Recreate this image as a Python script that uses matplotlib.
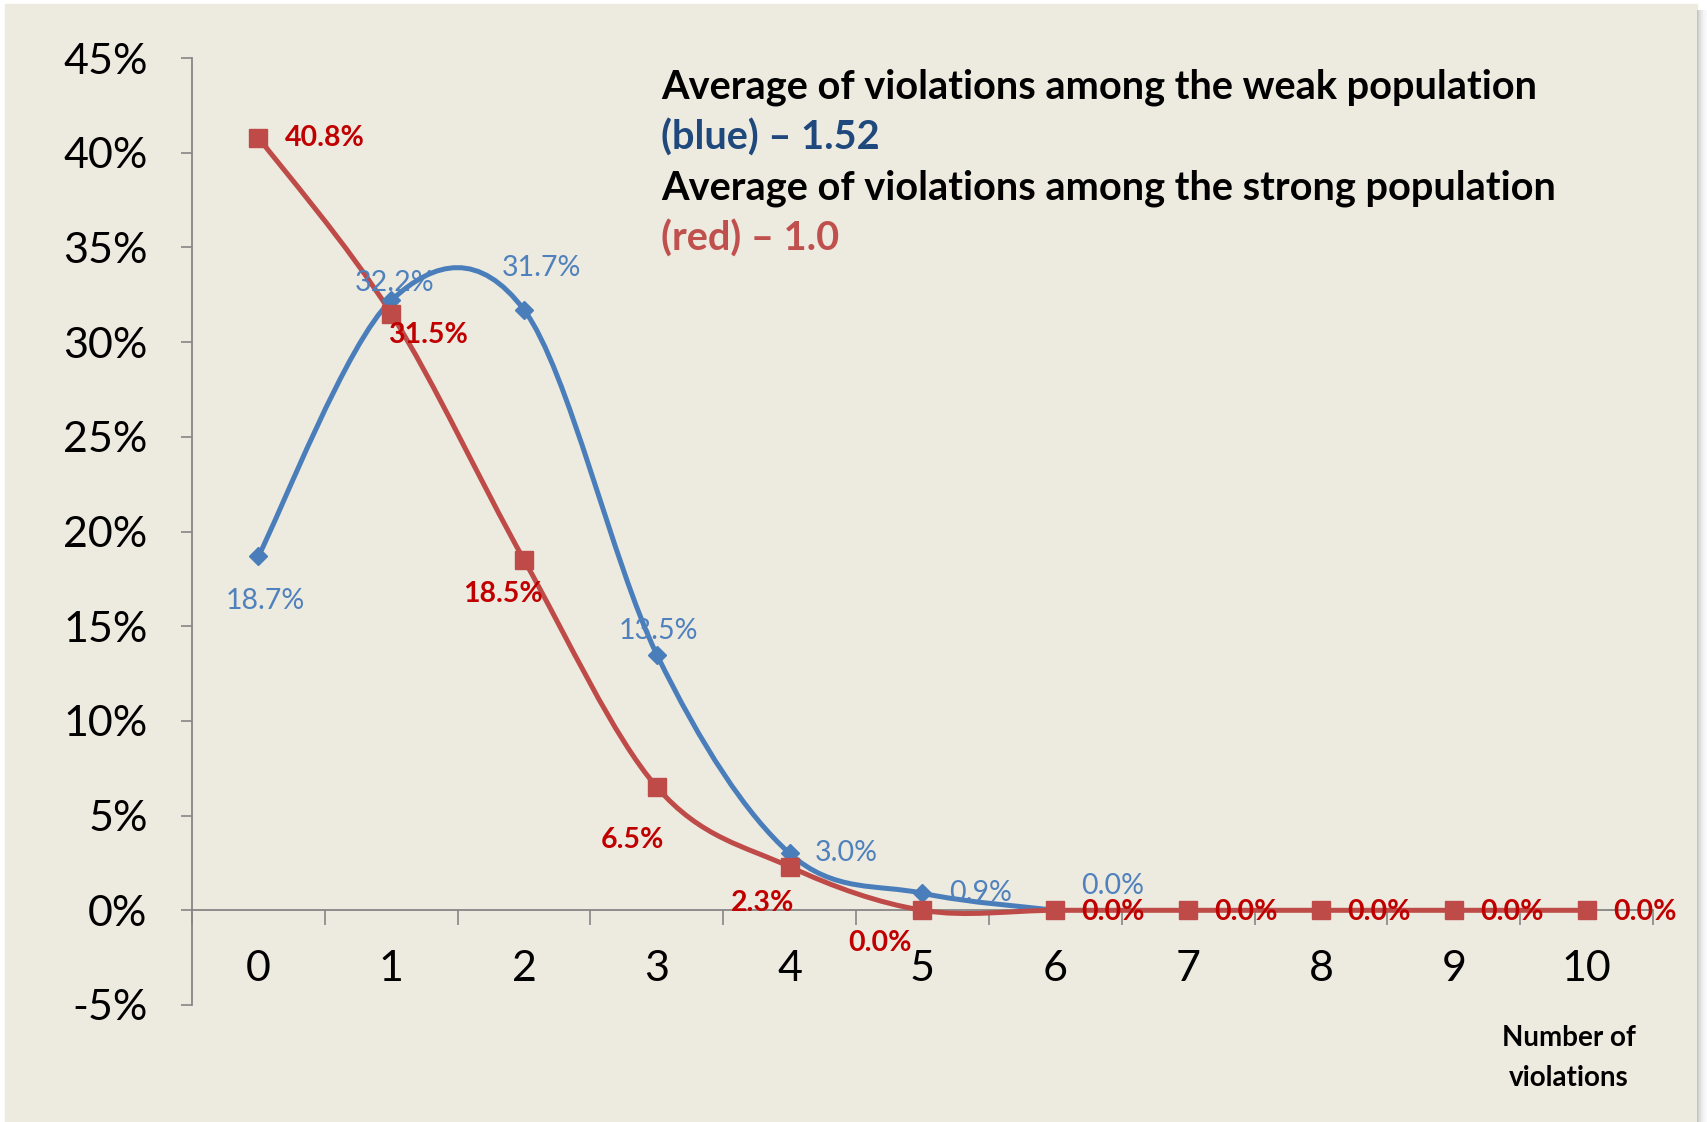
import numpy as np
import matplotlib
matplotlib.use("Agg")
import matplotlib.pyplot as plt
from matplotlib.path import Path
from matplotlib.patches import PathPatch, Rectangle

# --- data ---
violations = list(range(11))
weak_pct = [18.7, 32.2, 31.7, 13.5, 3.0, 0.9, 0.0]
strong_pct = [40.8, 31.5, 18.5, 6.5, 2.3, 0.0, 0.0, 0.0, 0.0, 0.0, 0.0]
y_ticks = [-5, 0, 5, 10, 15, 20, 25, 30, 35, 40, 45]
title_lines = [
    ("Average of violations among the weak population", "black"),
    ("(blue) \u2013 1.52", "#1F497D"),
    ("Average of violations among the strong population", "black"),
    ("(red) \u2013 1.0", "#C0504D"),
]

# label offsets in pixels (dx, dy) relative to each marker
weak_off = [(7, -45), (3, 17), (17, 42), (2, 24), (57, 0), (58, 0), (57, 24)]
strong_off = [(66, 0), (37, -21), (-21, -34), (-24, -53), (-27, -36), (-42, -33),
              (58, -2), (58, -2), (58, -2), (58, -2), (58, -2)]

BLUE = "#4A7EBB"
RED = "#BE4B48"
BG = "#EDEAE0"
FONT = "Lato"


def smooth_path(xs, ys):
    # excel-like smoothed line: bezier segments with catmull-rom control points
    pts = np.column_stack([xs, ys]).astype(float)
    n = len(pts)
    verts = [pts[0]]
    codes = [Path.MOVETO]
    for i in range(n - 1):
        p0 = pts[i - 1] if i > 0 else pts[i]
        p1 = pts[i]
        p2 = pts[i + 1]
        p3 = pts[i + 2] if i + 2 < n else pts[i + 1]
        verts += [p1 + (p2 - p0) / 6, p2 - (p3 - p1) / 6, p2]
        codes += [Path.CURVE4] * 3
    return Path(verts, codes)


def main():
    W, H = 1708, 1122
    fig = plt.figure(figsize=(W / 100, H / 100), dpi=100)
    fig.patch.set_facecolor("white")

    # beige panel with a little shadow on the right
    fig.patches.append(Rectangle((5 / W, 0), 1692 / W, (H - 4) / H,
                                 transform=fig.transFigure, color=BG, zorder=-2))
    for k, a in enumerate([0.35, 0.25, 0.15, 0.08, 0.04]):
        fig.patches.append(Rectangle(((1697 + 2 * k) / W, 0), 2 / W, (H - 10) / H,
                                     transform=fig.transFigure, color="#7f7f7f",
                                     alpha=a, lw=0, zorder=-2))

    ax = fig.add_axes([192 / W, 117 / H, (1653 - 192) / W, (1064 - 117) / H])
    ax.set_facecolor("none")
    ax.set_xlim(-0.5, 10.5)
    ax.set_ylim(-5, 45)

    for s in ["top", "right"]:
        ax.spines[s].set_visible(False)
    ax.spines["bottom"].set_position(("data", 0))
    for s in ["left", "bottom"]:
        ax.spines[s].set_color("#868686")
        ax.spines[s].set_linewidth(1.3)

    ax.set_yticks(y_ticks)
    ax.set_yticklabels([f"{v}%" for v in y_ticks], fontsize=31, family=FONT)
    ax.tick_params(axis="y", length=8, color="#868686", width=1.2, pad=24)
    ax.set_xticks(np.arange(-0.5, 11, 1))
    ax.set_xticklabels([])
    ax.tick_params(axis="x", length=11, color="#868686", width=1.2)

    for v in violations:
        ax.annotate(str(v), (v, 0), xytext=(0, -59), textcoords="offset pixels",
                    ha="center", va="center", fontsize=31, family=FONT)

    # curves
    ax.add_patch(PathPatch(smooth_path(violations[:len(weak_pct)], weak_pct),
                           fill=False, ec=BLUE, lw=3.6, zorder=3))
    ax.add_patch(PathPatch(smooth_path(violations, strong_pct),
                           fill=False, ec=RED, lw=3.6, zorder=4))
    ax.plot(violations[:len(weak_pct)], weak_pct, ls="none", marker="D",
            ms=9, color=BLUE, zorder=5)
    ax.plot(violations, strong_pct, ls="none", marker="s", ms=13,
            color=RED, zorder=6)

    for x, y, (dx, dy) in zip(violations, weak_pct, weak_off):
        ax.annotate(f"{y:.1f}%", (x, y), xytext=(dx, dy), textcoords="offset pixels",
                    ha="center", va="center", fontsize=20.5, color="#4F81BD",
                    family=FONT, zorder=7)
    for x, y, (dx, dy) in zip(violations, strong_pct, strong_off):
        ax.annotate(f"{y:.1f}%", (x, y), xytext=(dx, dy), textcoords="offset pixels",
                    ha="center", va="center", fontsize=20.5, color="#C00000",
                    fontweight="bold", family=FONT, zorder=7)

    # header text
    for i, (txt, col) in enumerate(title_lines):
        fig.text(661 / W, 1 - (87 + 50.5 * i) / H, txt, ha="left", va="center",
                 fontsize=28.6, fontweight="bold", color=col, family=FONT)

    fig.text(1569 / W, 1 - 1038 / H, "Number of", ha="center", va="center",
             fontsize=20, fontweight="bold", family=FONT)
    fig.text(1569 / W, 1 - 1078 / H, "violations", ha="center", va="center",
             fontsize=20, fontweight="bold", family=FONT)

    fig.savefig("out.png", dpi=100, facecolor=fig.get_facecolor())


if __name__ == "__main__":
    main()
